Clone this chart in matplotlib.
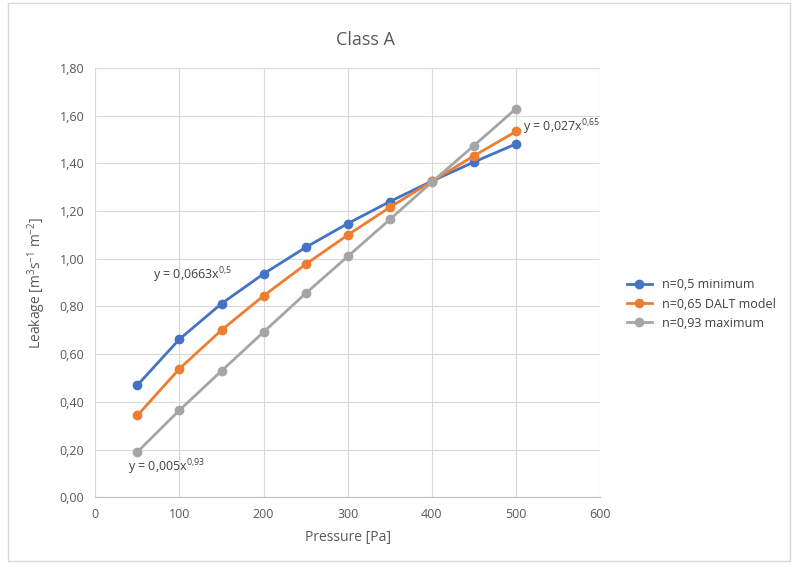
import matplotlib.pyplot as plt
from matplotlib.patches import Rectangle
from matplotlib.ticker import FuncFormatter

plt.rcParams['font.family'] = ['Open Sans', 'DejaVu Sans']
plt.rcParams['mathtext.fontset'] = 'custom'
plt.rcParams['mathtext.rm'] = 'Open Sans'
plt.rcParams['mathtext.it'] = 'Open Sans:italic'

pressure = [50, 100, 150, 200, 250, 300, 350, 400, 450, 500]
n05_min = [0.47, 0.663, 0.812, 0.937, 1.048, 1.148, 1.240, 1.326, 1.406, 1.482]
n065_dalt = [0.343, 0.539, 0.701, 0.845, 0.977, 1.100, 1.216, 1.325, 1.432, 1.534]
n093_max = [0.19, 0.365, 0.530, 0.693, 0.855, 1.010, 1.165, 1.322, 1.475, 1.630]
labels = ['n=0,5 minimum', 'n=0,65 DALT model', 'n=0,93 maximum']
colors = ['#4472C4', '#ED7D31', '#A5A5A5']

fig = plt.figure(figsize=(7.94, 5.67), dpi=100)
ax = fig.add_axes([0.120, 0.123, 0.636, 0.757])

for vals, lab, c in zip([n05_min, n065_dalt, n093_max], labels, colors):
    ax.plot(pressure, vals, color=c, lw=2, marker='o', ms=6, label=lab)

ax.set_xlim(0, 600)
ax.set_ylim(0, 1.8)
ax.set_xticks(range(0, 601, 100))
ax.set_yticks([i * 0.2 for i in range(10)])
ax.yaxis.set_major_formatter(FuncFormatter(lambda v, p: f'{v:.2f}'.replace('.', ',')))
ax.grid(True, color='#D9D9D9', lw=0.8)
ax.set_axisbelow(True)
for s in ['top', 'right', 'left']:
    ax.spines[s].set_visible(False)
ax.spines['bottom'].set_color('#BFBFBF')
ax.tick_params(length=0, labelsize=9, colors='#595959', pad=8)

ax.set_xlabel('Pressure [Pa]', fontsize=10, color='#595959', labelpad=6)
ax.set_ylabel('Leakage [m$^{3}$s$^{-1}$ m$^{-2}$]', fontsize=10, color='#595959', labelpad=8)
fig.text(0.46, 0.929, 'Class A', fontsize=13, color='#595959', ha='center', va='center')

ax.text(69, 0.93, 'y = 0,0663x$^{0{,}5}$', fontsize=9, color='#404040', va='center')
ax.text(39, 0.126, 'y = 0,005x$^{0{,}93}$', fontsize=9, color='#404040', va='center')
ax.text(508, 1.553, 'y = 0,027x$^{0{,}65}$', fontsize=9, color='#404040', va='center')

ax.legend(loc='center left', bbox_to_anchor=(1.03, 0.45), frameon=False,
          fontsize=9, labelcolor='#404040', handlelength=2.0)

fig.patches.append(Rectangle((0.01, 0.01), 0.985, 0.985, transform=fig.transFigure,
                             fill=False, edgecolor='#D9D9D9', lw=1))

fig.savefig('out.png', dpi=100)
